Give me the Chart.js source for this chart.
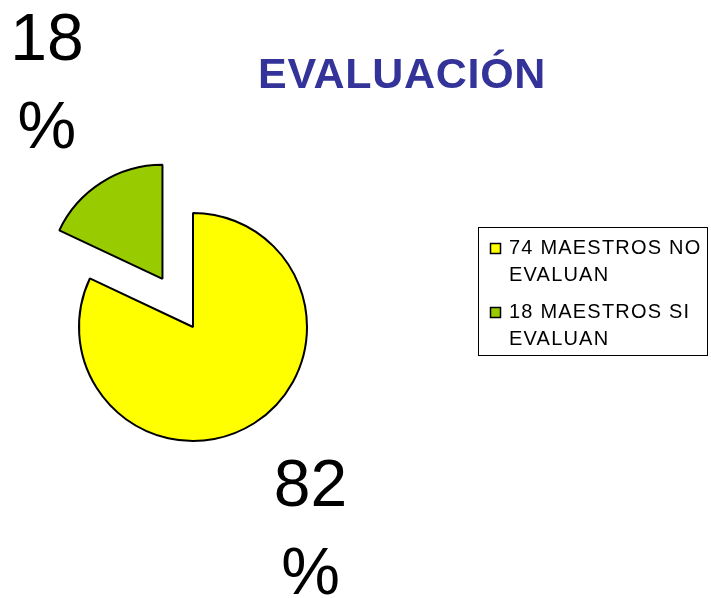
<!DOCTYPE html>
<html>
<head>
<meta charset="utf-8">
<script src="https://cdn.jsdelivr.net/npm/chart.js@4/dist/chart.umd.min.js"></script>
<style>
	body { margin: 0; background: #fff; }
	#wrap { width: 711px; height: 598px; }
</style>
</head>
<body>
<div id="wrap"><canvas id="myChart"></canvas></div>
<script>
// datos del grafico
var chart_title = 'EVALUACIÓN';
var label_list = [['74 MAESTROS NO', 'EVALUAN'], ['18 MAESTROS SI', 'EVALUAN']];
var pct_list = [82, 18];

var color_list = ['#FFFF00', '#99CC00'];
var explode_list = [0, 57]; // separacion de cada porcion (px)

// separa las porciones (sin agrandar el radio como hace "offset")
const explodePlugin = {
	id: 'explode',
	afterDatasetUpdate(chart, args) {
		const meta = chart.getDatasetMeta(args.index);
		meta.data.forEach(function (arc, i) {
			const e = explode_list[i] || 0;
			if (!e) return;
			const mid = (arc.startAngle + arc.endAngle) / 2;
			arc.x += Math.cos(mid) * e;
			arc.y += Math.sin(mid) * e;
		});
	}
};

// titulo, leyenda y etiquetas de porcentaje
const extraPlugin = {
	id: 'extra',
	afterDraw(chart) {
		const ctx = chart.ctx;
		ctx.save();

		// titulo
		ctx.font = 'bold 43px "Liberation Sans", Arial, sans-serif';
		ctx.letterSpacing = '0.7px';
		ctx.fillStyle = '#333399';
		ctx.textAlign = 'left';
		ctx.textBaseline = 'alphabetic';
		ctx.fillText(chart_title, 258, 88);

		// etiquetas grandes
		const meta = chart.getDatasetMeta(0);
		ctx.letterSpacing = '0px';
		ctx.font = '66px "Liberation Sans", Arial, sans-serif';
		ctx.fillStyle = '#000';
		ctx.textAlign = 'center';
		ctx.textBaseline = 'middle';
		meta.data.forEach(function (arc, i) {
			const mid = (arc.startAngle + arc.endAngle) / 2 + 2 * Math.PI / 180;
			const d = arc.outerRadius * 2.02;
			const x = arc.x + Math.cos(mid) * d + 1;
			const y = arc.y + Math.sin(mid) * d + 6;
			ctx.fillText(String(pct_list[i]), x, y - 44);
			ctx.fillText('%', x, y + 44);
		});

		// leyenda
		ctx.strokeStyle = '#000';
		ctx.lineWidth = 1;
		ctx.strokeRect(478.5, 227.5, 229, 128);
		ctx.font = '20px "Liberation Sans", Arial, sans-serif';
		ctx.letterSpacing = '1.2px';
		ctx.textAlign = 'left';
		ctx.textBaseline = 'alphabetic';
		let yy = 254;
		label_list.forEach(function (lines, i) {
			ctx.fillStyle = color_list[i];
			ctx.fillRect(490, yy - 11, 11, 10);
			ctx.lineWidth = 1.5;
			ctx.strokeRect(490.5, yy - 10.5, 10, 10);
			ctx.fillStyle = '#000';
			lines.forEach(function (t, j) {
				ctx.fillText(t, 509, yy + j * 27);
			});
			yy += 64;
		});
		ctx.restore();
	}
};

const chartArea = document.getElementById('myChart').getContext('2d');
const myChart = new Chart(chartArea, {
	type: 'pie',
	data: {
		labels: label_list,
		datasets: [{
			data: pct_list,
			backgroundColor: color_list,
			borderColor: '#000',
			borderWidth: 2
		}]
	},
	options: {
		responsive: true,
		maintainAspectRatio: false,
		animation: false,
		radius: 114,
		layout: {
			padding: { left: 0, right: 325, top: 127, bottom: 71 }
		},
		plugins: {
			legend: { display: false },
			title: { display: false },
			tooltip: { enabled: false }
		}
	},
	plugins: [explodePlugin, extraPlugin]
});
</script>
</body>
</html>
